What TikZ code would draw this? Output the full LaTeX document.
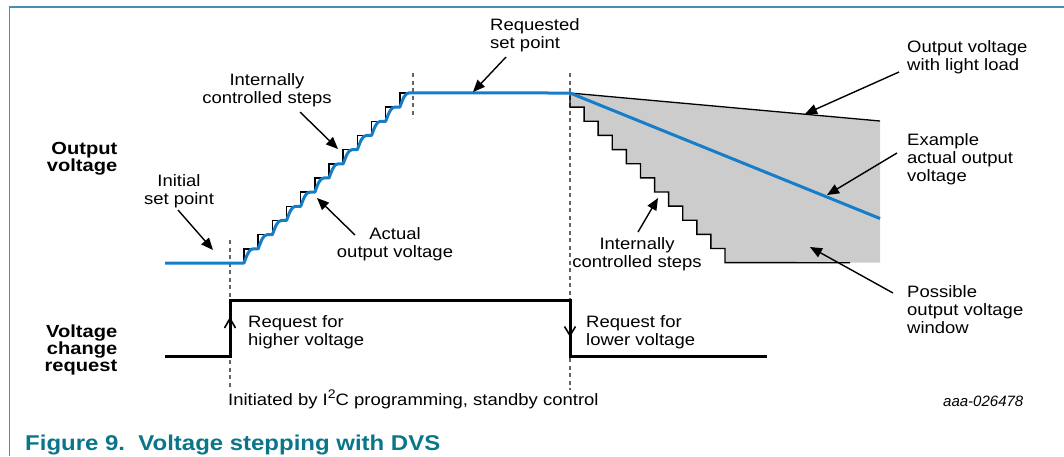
\documentclass[tikz,border=0pt]{standalone}
\usepackage{fontspec}
\setmainfont[FakeStretch=1.12]{Liberation Sans}
\newfontfamily\lblbf[FakeStretch=1.15]{Liberation Sans Bold}
\newfontfamily\capfont[FakeStretch=1.12]{Liberation Sans Bold}
\newfontfamily\idfont{Liberation Sans Italic}
\usetikzlibrary{arrows.meta}
\definecolor{dvsblue}{RGB}{22,125,200}
\definecolor{frameteal}{RGB}{70,145,170}
\definecolor{capteal}{RGB}{10,118,138}
\definecolor{windowgray}{RGB}{204,204,204}
\definecolor{dashgray}{RGB}{100,100,100}
\tikzset{
  lbl/.style={font=\fontsize{16.5}{18}\selectfont, inner sep=0pt, anchor=base},
  bflbl/.style={font=\lblbf\fontsize{17.5}{16.8}\selectfont, inner sep=0pt, anchor=base east, align=right},
  arr/.style={line width=1.4pt, -{Triangle[length=12pt,width=10pt]}},
  guide/.style={dashgray, line width=1.1pt, dash pattern=on 4pt off 3.5pt},
  stepline/.style={black, line width=1.4pt},
  blueline/.style={dvsblue, line width=3pt, line join=round},
  sigline/.style={black, line width=3pt, line join=miter},
  chev/.style={black, line width=1.6pt}
}
\begin{document}
\begin{tikzpicture}[x=1pt,y=-1pt]
\useasboundingbox (0,0) rectangle (1064,456);
% frame
\draw[frameteal, line width=1.3pt] (1064,7) -- (9.5,7) -- (9.5,456);
% gray window
\fill[windowgray] (570,93) foreach \k in {0,...,10} { -- ++(0,14.14) -- ++(14.09,0) } -- ++(0,14.14) -- (880,262.7) -- (880,121) -- cycle;
% guides
\draw[guide] (230,240) -- (230,390);
\draw[guide] (413,73) -- (413,118);
\draw[guide] (570,73) -- (570,390);
% left staircase
\foreach \i in {0,...,11} {
  \draw[stepline] ({244+\i*14.17},{263-\i*14.17}) -- ({244+\i*14.17},{263-(\i+1)*14.17}) -- ({244+\i*14.17+8},{263-(\i+1)*14.17});
}
% right staircase and light load line
\draw[stepline] (570,93) foreach \k in {0,...,10} { -- ++(0,14.14) -- ++(14.09,0) } -- ++(0,14.14) -- (850,262.7);
\draw[black, line width=1.3pt] (570,93) -- (880,121);
% blue output voltage
\draw[blueline] (165,263) -- (244,263)
  foreach \i in {0,...,11} {
    .. controls ({244+\i*14.17+3},{263-\i*14.17-8}) and ({244+\i*14.17+5},{263-(\i+1)*14.17}) .. ({244+\i*14.17+9},{263-(\i+1)*14.17})
    -- ({244+(\i+1)*14.17},{263-(\i+1)*14.17})
  } -- (570,93) -- (880,218.5);
% request signal
\draw[sigline] (165,356) -- (230,356) -- (230,300.5) -- (570,300.5) -- (570,356) -- (767,356);
\draw[chev] (224.5,328) -- (230,318.5) -- (235.5,328);
\draw[chev] (564.5,326.5) -- (570,335.5) -- (575.5,326.5);
% side labels (anchored at the baseline of the last line)
\node[bflbl] (ov) at (117.5,171.5) {Output\\voltage};
\node[bflbl] (vcr) at (117.5,371.5) {Voltage\\change\\request};
% labels (anchored at the baseline of the last line)
\node[lbl, align=left, anchor=base west] (req) at (490,48.3) {Requested\\set point};
\node[lbl, align=center] (ics1) at (267,103) {Internally\\controlled steps};
\node[lbl, align=center] (isp) at (179,204) {Initial\\set point};
\node[lbl, align=center] (aov) at (395,257) {Actual\\output voltage};
\node[lbl, align=left, anchor=base west] (oll) at (907,70.5) {Output voltage\\with light load};
\node[lbl, align=left, anchor=base west] (eao) at (907,181) {Example\\actual output\\voltage};
\node[lbl, align=left, anchor=base west] (pow) at (907,333) {Possible\\output voltage\\window};
\node[lbl, align=center] (ics2) at (637,267) {Internally\\controlled steps};
\node[lbl, align=left, anchor=base west] (rhv) at (248,345.7) {Request for\\higher voltage};
\node[lbl, align=left, anchor=base west] (rlv) at (586,345.7) {Request for\\lower voltage};
\node[lbl, anchor=base west] (init) at (228,405) {Initiated by I\raisebox{0.42em}{\fontsize{12.5}{12.5}\selectfont 2}C programming, standby control};
\node[inner sep=0pt, anchor=base west, font=\idfont\fontsize{15}{17}\selectfont] (aid) at (943,406.5) {aaa-026478};
\node[inner sep=0pt, anchor=base west, text=capteal, font=\capfont\fontsize{21.4}{23}\selectfont] (cap) at (25,450) {Figure 9.\ \ Voltage stepping with DVS};
% arrows
\coordinate (reqT) at (506,57);   \coordinate (reqH) at (473,92);
\coordinate (icsT) at (300,112);  \coordinate (icsH) at (338,149);
\coordinate (ispT) at (178,210);  \coordinate (ispH) at (213,250);
\coordinate (aovT) at (355,235);  \coordinate (aovH) at (317,198);
\coordinate (ollT) at (899,72);   \coordinate (ollH) at (805,114);
\coordinate (eaoT) at (897,153);  \coordinate (eaoH) at (827,195);
\coordinate (powT) at (893,293);  \coordinate (powH) at (810,247);
\coordinate (ics2T) at (638,232); \coordinate (ics2H) at (658,198);
\draw[arr] (reqT) -- (reqH);
\draw[arr] (icsT) -- (icsH);
\draw[arr] (ispT) -- (ispH);
\draw[arr] (aovT) -- (aovH);
\draw[arr] (ollT) -- (ollH);
\draw[arr] (eaoT) -- (eaoH);
\draw[arr] (powT) -- (powH);
\draw[arr] (ics2T) -- (ics2H);
\end{tikzpicture}
\end{document}
